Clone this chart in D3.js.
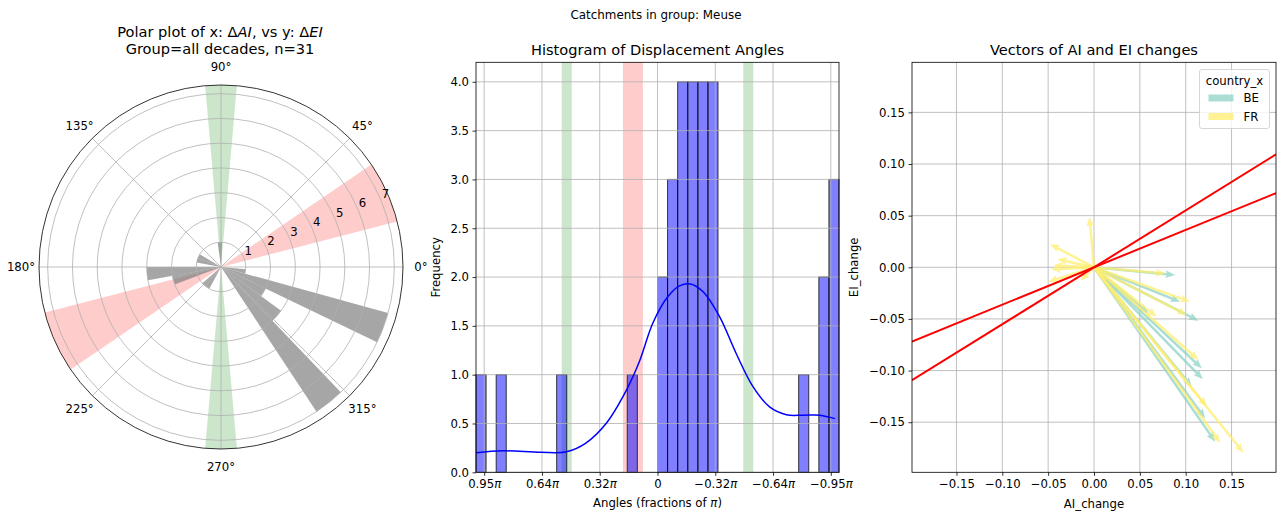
<!DOCTYPE html>
<html>
<head>
<meta charset="utf-8">
<script src="https://cdn.jsdelivr.net/npm/d3@7"></script>
<style>
  body { margin: 0; background: #fff; }
  svg { font-family: "DejaVu Sans", sans-serif; }
</style>
</head>
<body>
<svg id="chart" width="1281" height="515"></svg>
<script>
// ---------- data ----------
// polar histogram: 35 bins from -180deg to 180deg
const polarCounts = [3, 2, 0, 0, 1, 1, 0, 0, 0, 0, 0, 0, 7, 3, 2, 7, 1, 0, 0, 0, 0, 0, 0, 0, 0, 0, 1, 0, 0, 0, 0, 0, 1, 1, 0];
const polarRTicks = [1, 2, 3, 4, 5, 6, 7];
const polarAngleTicks = [0, 45, 90, 135, 180, 225, 270, 315];
const redSector = [14.5, 34.3];     // degrees
const greenSector = [85, 95];       // degrees

// histogram: 36 bins from -pi to pi
const histCounts = [3, 2, 0, 1, 0, 0, 0, 0, 0, 0, 0, 0, 4, 4, 4, 4, 3, 2, 0, 0, 1, 0, 0, 0, 0, 0, 0, 1, 0, 0, 0, 0, 0, 1, 0, 1];
const histTicks = [3, 2, 1, 0, -1, -2, -3];
const histTickLabels = ["0.95", "0.64", "0.32", "0", "\u22120.32", "\u22120.64", "\u22120.95"];
const kdeAngle = [3.14, 2.68, 2.02, 1.58, 1.24, 0.89, 0.54, 0.31, 0.08, -0.18, -0.38, -0.57, -0.79, -1.07, -1.36, -1.65, -1.94, -2.23, -2.52, -2.81, -3.07];
const kdeValue = [0.20, 0.22, 0.205, 0.21, 0.30, 0.50, 0.84, 1.14, 1.53, 1.80, 1.91, 1.93, 1.85, 1.60, 1.22, 0.88, 0.67, 0.59, 0.585, 0.585, 0.55];

// vectors
const countries = ["BE", "FR"];
const countryColors = ["#8dd3c7", "#ffed6f"];
const vecAI = [0.0884, 0.1048, 0.0939, 0.1139, 0.1012, 0.0684, 0.0593, 0.1139, 0.1176, 0.1187, 0.1067, 0.1231, 0.1212, 0.1321, 0.1376, 0.163, 0.078, -0.005, -0.048, -0.044, -0.047, -0.050, -0.015, -0.040];
const vecEI = [-0.0075, -0.0333, -0.0333, -0.0517, -0.0462, -0.0478, -0.0445, -0.0897, -0.0978, -0.1084, -0.1156, -0.1349, -0.1462, -0.1688, -0.1698, -0.1795, -0.006, 0.049, 0.0225, 0.002, -0.002, -0.014, -0.013, 0.008];
const vecCountry = ["BE", "FR", "BE", "BE", "FR", "FR", "BE", "FR", "BE", "BE", "BE", "FR", "BE", "BE", "FR", "FR", "FR", "FR", "FR", "FR", "FR", "FR", "FR", "FR"];
const regSlopes = [0.551, 0.362];
const vecTicks = [-0.15, -0.10, -0.05, 0, 0.05, 0.10, 0.15];

// ---------- setup ----------
const svg = d3.select("#chart");
svg.append("rect").attr("width", 1281).attr("height", 515).attr("fill", "#fff");
const GRID = "#b0b0b0", FS = 11.7, TFS = 14.6;

svg.append("text").attr("x", 656).attr("y", 19).attr("text-anchor", "middle")
    .attr("font-size", 11.9).text("Catchments in group: Meuse");

function styleAxis(g) {
    g.select(".domain").remove();
    g.selectAll(".tick line").attr("stroke", "#000").attr("stroke-width", 0.8);
    g.selectAll(".tick text").attr("font-size", FS).attr("font-family", "DejaVu Sans").attr("fill", "#000");
    g.attr("font-family", null).attr("font-size", null);
}

// ---------- polar ----------
const pc = { x: 221, y: 267 }, R = 182;
const rScale = d3.scaleLinear().domain([0, 7.35]).range([0, R]);
const toD3 = deg => (90 - deg) * Math.PI / 180;
const rad = deg => deg * Math.PI / 180;
const arc = d3.arc();
const gP = svg.append("g").attr("transform", `translate(${pc.x},${pc.y})`);

[[redSector, "#ff0000"], [greenSector, "#008000"]].forEach(([s, c]) => {
    [0, 180].forEach(off => {
        gP.append("path")
            .attr("d", arc({ innerRadius: 0, outerRadius: R, startAngle: toD3(s[1] + off), endAngle: toD3(s[0] + off) }))
            .attr("fill", c).attr("fill-opacity", 0.2);
    });
});

const binW = 360 / polarCounts.length;
gP.selectAll("path.bar").data(polarCounts.map((c, k) => ({ c, k })).filter(d => d.c > 0))
    .enter().append("path").attr("class", "bar")
    .attr("d", d => {
        const lo = -180 + d.k * binW, hi = lo + binW;
        return arc({ innerRadius: 0, outerRadius: rScale(d.c), startAngle: toD3(hi), endAngle: toD3(lo) });
    })
    .attr("fill", "#808080").attr("fill-opacity", 0.7);

gP.selectAll("circle.grid").data(polarRTicks).enter().append("circle")
    .attr("r", d => rScale(d)).attr("fill", "none").attr("stroke", GRID).attr("stroke-width", 0.8);
gP.selectAll("line.spoke").data(polarAngleTicks).enter().append("line")
    .attr("x1", 0).attr("y1", 0)
    .attr("x2", d => R * Math.cos(rad(d))).attr("y2", d => -R * Math.sin(rad(d)))
    .attr("stroke", GRID).attr("stroke-width", 0.8);
gP.append("circle").attr("r", R).attr("fill", "none").attr("stroke", "#000").attr("stroke-width", 0.8);

gP.selectAll("text.ang").data(polarAngleTicks).enter().append("text")
    .attr("x", d => 200 * Math.cos(rad(d))).attr("y", d => -200 * Math.sin(rad(d)))
    .attr("dy", "0.35em").attr("text-anchor", "middle").attr("font-size", FS)
    .text(d => d + "\u00b0");
gP.selectAll("text.rlab").data(polarRTicks).enter().append("text")
    .attr("x", d => rScale(d) * Math.cos(rad(22.5)) + 0.5)
    .attr("y", d => -rScale(d) * Math.sin(rad(22.5)) - 3)
    .attr("font-size", FS).text(d => d);

const pt = svg.append("text").attr("x", 220).attr("y", 37).attr("text-anchor", "middle").attr("font-size", TFS);
pt.append("tspan").text("Polar plot of x: \u0394");
pt.append("tspan").attr("font-style", "italic").text("AI");
pt.append("tspan").text(", vs y: \u0394");
pt.append("tspan").attr("font-style", "italic").text("EI");
svg.append("text").attr("x", 220).attr("y", 54).attr("text-anchor", "middle").attr("font-size", TFS)
    .text("Group=all decades, n=31");

// ---------- histogram ----------
const hL = 476, hR = 839, hT = 62.3, hB = 472.3;
const hx = d3.scaleLinear().domain([Math.PI, -Math.PI]).range([hL, hR]);
const hy = d3.scaleLinear().domain([0, 4.2]).range([hB, hT]);
const gH = svg.append("g");
const hw = 2 * Math.PI / histCounts.length;

gH.append("rect").attr("x", hx(rad(redSector[1]))).attr("width", hx(rad(redSector[0])) - hx(rad(redSector[1])))
    .attr("y", hT).attr("height", hB - hT).attr("fill", "#ff0000").attr("fill-opacity", 0.2);
[1, -1].forEach(sg => {
    const a = hx(sg * rad(greenSector[0])), b = hx(sg * rad(greenSector[1]));
    gH.append("rect").attr("x", Math.min(a, b)).attr("width", Math.abs(a - b))
        .attr("y", hT).attr("height", hB - hT).attr("fill", "#008000").attr("fill-opacity", 0.2);
});

gH.selectAll("rect.hbar").data(histCounts.map((c, j) => ({ c, j })).filter(d => d.c > 0))
    .enter().append("rect").attr("class", "hbar")
    .attr("x", d => hx(-Math.PI + (d.j + 1) * hw))
    .attr("width", d => hx(-Math.PI + d.j * hw) - hx(-Math.PI + (d.j + 1) * hw))
    .attr("y", d => hy(d.c)).attr("height", d => hB - hy(d.c))
    .attr("fill", "#0000ff").attr("fill-opacity", 0.5)
    .attr("stroke", "#000").attr("stroke-opacity", 0.75).attr("stroke-width", 1);

const hYTicks = d3.range(0, 4.01, 0.5);
gH.selectAll("line.gy").data(hYTicks).enter().append("line")
    .attr("x1", hL).attr("x2", hR).attr("y1", d => hy(d)).attr("y2", d => hy(d))
    .attr("stroke", GRID).attr("stroke-width", 0.8);
gH.selectAll("line.gx").data(histTicks).enter().append("line")
    .attr("y1", hT).attr("y2", hB).attr("x1", d => hx(d)).attr("x2", d => hx(d))
    .attr("stroke", GRID).attr("stroke-width", 0.8);

const kdeLine = d3.line().x((d, i) => hx(kdeAngle[i])).y(d => hy(d)).curve(d3.curveCatmullRom);
gH.append("path").attr("d", kdeLine(kdeValue)).attr("fill", "none").attr("stroke", "#0000ff").attr("stroke-width", 1.5);

gH.append("rect").attr("x", hL).attr("y", hT).attr("width", hR - hL).attr("height", hB - hT)
    .attr("fill", "none").attr("stroke", "#000").attr("stroke-width", 0.8);

const hxAxis = gH.append("g").attr("transform", `translate(0,${hB})`)
    .call(d3.axisBottom(hx).tickValues(histTicks).tickSize(3.5).tickPadding(3.5).tickFormat(() => ""));
styleAxis(hxAxis);
hxAxis.selectAll(".tick text").each(function (d, i) {
    const t = d3.select(this);
    t.append("tspan").text(histTickLabels[i]);
    if (histTickLabels[i] !== "0") t.append("tspan").attr("font-style", "italic").text("\u03c0");
});
const hyAxis = gH.append("g").attr("transform", `translate(${hL},0)`)
    .call(d3.axisLeft(hy).tickValues(hYTicks).tickSize(3.5).tickPadding(3.5).tickFormat(d3.format(".1f")));
styleAxis(hyAxis);

svg.append("text").attr("x", (hL + hR) / 2).attr("y", 55).attr("text-anchor", "middle").attr("font-size", TFS)
    .text("Histogram of Displacement Angles");
const hxl = svg.append("text").attr("x", (hL + hR) / 2).attr("y", 507).attr("text-anchor", "middle").attr("font-size", FS);
hxl.append("tspan").text("Angles (fractions of ");
hxl.append("tspan").attr("font-style", "italic").text("\u03c0");
hxl.append("tspan").text(")");
svg.append("text").attr("transform", `translate(440,${(hT + hB) / 2}) rotate(-90)`).attr("text-anchor", "middle")
    .attr("font-size", FS).text("Frequency");

// ---------- vectors ----------
const vL = 912, vR = 1276, vT = 62.3, vB = 472.3;
const vx = d3.scaleLinear().domain([-0.1985, 0.1985]).range([vL, vR]);
const vy = d3.scaleLinear().domain([-0.1985, 0.1985]).range([vB, vT]);
const gV = svg.append("g");
svg.append("clipPath").attr("id", "vclip").append("rect").attr("x", vL).attr("y", vT).attr("width", vR - vL).attr("height", vB - vT);

gV.selectAll("line.gx").data(vecTicks).enter().append("line")
    .attr("y1", vT).attr("y2", vB).attr("x1", d => vx(d)).attr("x2", d => vx(d))
    .attr("stroke", GRID).attr("stroke-width", 0.8);
gV.selectAll("line.gy").data(vecTicks).enter().append("line")
    .attr("x1", vL).attr("x2", vR).attr("y1", d => vy(d)).attr("y2", d => vy(d))
    .attr("stroke", GRID).attr("stroke-width", 0.8);

function arrowPath(x0, y0, x1, y1) {
    const dx = x1 - x0, dy = y1 - y0, L = Math.hypot(dx, dy);
    const ux = dx / L, uy = dy / L, nx = -uy, ny = ux;
    const w = 1.25, hl = 9.5, ha = 8.5, hwid = 3.8;
    const bx = x1 - ux * ha, by = y1 - uy * ha, cx = x1 - ux * hl, cy = y1 - uy * hl;
    const p = [[x0 + nx * w, y0 + ny * w], [bx + nx * w, by + ny * w], [cx + nx * hwid, cy + ny * hwid], [x1, y1],
    [cx - nx * hwid, cy - ny * hwid], [bx - nx * w, by - ny * w], [x0 - nx * w, y0 - ny * w]];
    return "M" + p.map(q => q.join(",")).join("L") + "Z";
}
const colorOf = d3.scaleOrdinal().domain(countries).range(countryColors);
const vecs = vecAI.map((a, i) => ({ a, e: vecEI[i], c: vecCountry[i] }));
const gA = gV.append("g").attr("clip-path", "url(#vclip)");
countries.forEach(cn => {
    gA.selectAll(null).data(vecs.filter(d => d.c === cn)).enter().append("path")
        .attr("d", d => arrowPath(vx(0), vy(0), vx(d.a), vy(d.e)))
        .attr("fill", colorOf(cn)).attr("fill-opacity", 0.75);
});
gA.selectAll("line.reg").data(regSlopes).enter().append("line")
    .attr("x1", vx(-0.1985)).attr("x2", vx(0.1985))
    .attr("y1", d => vy(-0.1985 * d)).attr("y2", d => vy(0.1985 * d))
    .attr("stroke", "#ff0000").attr("stroke-width", 2);

gV.append("rect").attr("x", vL).attr("y", vT).attr("width", vR - vL).attr("height", vB - vT)
    .attr("fill", "none").attr("stroke", "#000").attr("stroke-width", 0.8);
const vxAxis = gV.append("g").attr("transform", `translate(0,${vB})`)
    .call(d3.axisBottom(vx).tickValues(vecTicks).tickSize(3.5).tickPadding(3.5).tickFormat(d3.format(".2f")));
styleAxis(vxAxis);
const vyAxis = gV.append("g").attr("transform", `translate(${vL},0)`)
    .call(d3.axisLeft(vy).tickValues(vecTicks).tickSize(3.5).tickPadding(3.5).tickFormat(d3.format(".2f")));
styleAxis(vyAxis);

svg.append("text").attr("x", (vL + vR) / 2).attr("y", 55).attr("text-anchor", "middle").attr("font-size", TFS)
    .text("Vectors of AI and EI changes");
svg.append("text").attr("x", (vL + vR) / 2).attr("y", 508).attr("text-anchor", "middle").attr("font-size", FS)
    .text("AI_change");
svg.append("text").attr("transform", `translate(858,${(vT + vB) / 2}) rotate(-90)`).attr("text-anchor", "middle")
    .attr("font-size", FS).text("EI_change");

// legend
const lg = svg.append("g").attr("transform", "translate(1199.5,69.5)");
lg.append("rect").attr("width", 70).attr("height", 59).attr("rx", 2.5)
    .attr("fill", "#fff").attr("fill-opacity", 0.8).attr("stroke", "#cccccc").attr("stroke-width", 0.8);
lg.append("text").attr("x", 35).attr("y", 15).attr("text-anchor", "middle").attr("font-size", FS).text("country_x");
countries.forEach((cn, i) => {
    lg.append("rect").attr("x", 9).attr("y", 25 + i * 18.5).attr("width", 25).attr("height", 7)
        .attr("fill", countryColors[i]).attr("fill-opacity", 0.75);
    lg.append("text").attr("x", 44).attr("y", 32.5 + i * 18.5).attr("font-size", FS).text(cn);
});
</script>
</body>
</html>
